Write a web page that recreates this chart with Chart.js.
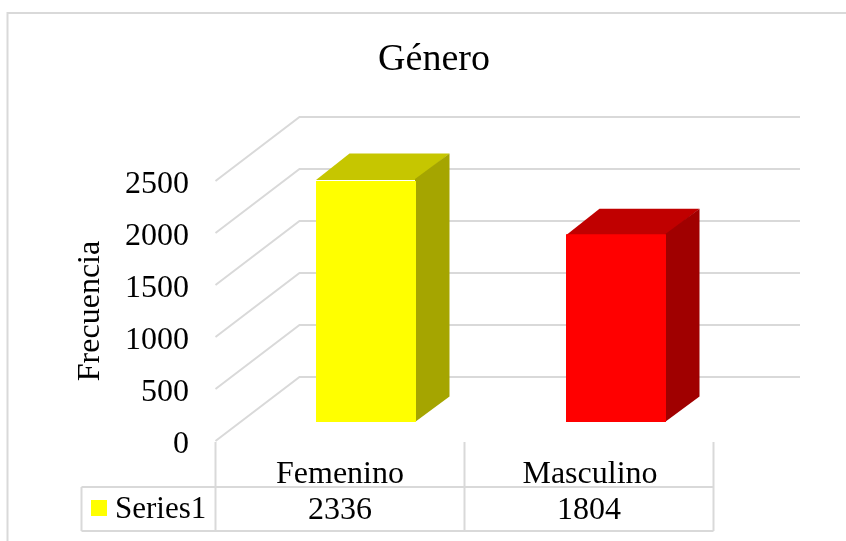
<!DOCTYPE html>
<html><head><meta charset="utf-8">
<script src="https://cdn.jsdelivr.net/npm/chart.js@4"></script>
<style>html,body{margin:0;padding:0;background:#fff}canvas{display:block}</style>
</head><body><canvas id="c" width="846" height="541"></canvas>
<script>
const categories = ['Femenino', 'Masculino'];
const values = [2336, 1804];
const barColors = ['#ffff00', '#ff0000'];
const topColors = ['#c6c600', '#c00000'];
const sideColors = ['#a5a500', '#a00000'];
const seriesName = 'Series1';
const chartTitle = 'Género';
const axisTitle = 'Frecuencia';
const FONT = '"Liberation Serif"';
const GRID = '#d9d9d9';
// 3D projection offsets
const WALL = {dx: 84, dy: -64, end: 800};
const DEPTH = {dx: 33.5, dy: -25.5};
const TABLE = {left: 81.5, col0: 215.5, col1: 464.5, col2: 713.5, head: 442, top: 487, bottom: 531};

function line(ctx, pts) {
  ctx.beginPath();
  pts.forEach((p, i) => i ? ctx.lineTo(p[0], p[1]) : ctx.moveTo(p[0], p[1]));
  ctx.stroke();
}
function poly(ctx, pts, color) {
  ctx.fillStyle = color;
  ctx.beginPath();
  pts.forEach((p, i) => i ? ctx.lineTo(p[0], p[1]) : ctx.moveTo(p[0], p[1]));
  ctx.closePath();
  ctx.fill();
}
const scene = {
  id: 'scene',
  beforeDraw(chart) {
    const {ctx, scales: {y}} = chart;
    ctx.save();
    ctx.strokeStyle = GRID;
    ctx.lineWidth = 2;
    // chart frame
    line(ctx, [[7.5, 541], [7.5, 13], [846, 13]]);
    y.ticks.forEach(t => {
      const py = y.getPixelForValue(t.value);
      line(ctx, [[TABLE.col0, py], [TABLE.col0 + WALL.dx, py + WALL.dy], [WALL.end, py + WALL.dy]]);
    });
    ctx.fillStyle = '#000';
    ctx.font = '38px ' + FONT;
    ctx.textAlign = 'center';
    ctx.textBaseline = 'alphabetic';
    ctx.fillText(chartTitle, 434, 70);
    ctx.restore();
  },
  beforeDatasetsDraw(chart) {
    const {ctx} = chart;
    const meta = chart.getDatasetMeta(0);
    ctx.save();
    meta.data.forEach((bar, i) => {
      const l = bar.x - bar.width / 2, r = bar.x + bar.width / 2, t = bar.y, b = bar.base;
      const d = DEPTH;
      // faces run 1px under the front of the bar so no seam shows
      poly(ctx, [[l, t + 1], [l + d.dx, t + d.dy], [r + d.dx, t + d.dy], [r, t + 1]], topColors[i]);
      poly(ctx, [[r - 1, t], [r + d.dx, t + d.dy], [r + d.dx, b + d.dy], [r - 1, b]], sideColors[i]);
    });
    ctx.restore();
  },
  afterDraw(chart) {
    const {ctx} = chart;
    const T = TABLE;
    ctx.save();
    ctx.strokeStyle = GRID;
    ctx.lineWidth = 2;
    line(ctx, [[T.left, T.top], [T.col2, T.top]]);
    line(ctx, [[T.left, T.bottom], [T.col2, T.bottom]]);
    line(ctx, [[T.left, T.top], [T.left, T.bottom]]);
    [T.col0, T.col1, T.col2].forEach(x => line(ctx, [[x, T.head], [x, T.bottom]]));
    ctx.fillStyle = barColors[0];
    ctx.fillRect(91, 500, 16, 16);
    ctx.fillStyle = '#000';
    ctx.font = '31px ' + FONT;
    ctx.textBaseline = 'alphabetic';
    ctx.textAlign = 'left';
    ctx.fillText(seriesName, 115, 518);
    ctx.font = '32px ' + FONT;
    ctx.textAlign = 'center';
    ctx.fillText(String(values[0]), (T.col0 + T.col1) / 2, 519);
    ctx.fillText(String(values[1]), (T.col1 + T.col2) / 2, 519);
    ctx.restore();
  }
};
new Chart(document.getElementById('c'), {
  type: 'bar',
  data: {
    labels: categories,
    datasets: [{label: seriesName, data: values, backgroundColor: barColors, xAxisID: 'x', yAxisID: 'yBars',
      categoryPercentage: 0.8, barPercentage: 0.5}]
  },
  plugins: [scene],
  options: {
    responsive: false,
    animation: false,
    layout: {padding: {left: 0, right: 105, top: 181, bottom: 0}},
    plugins: {
      legend: {display: false},
      tooltip: {enabled: false},
      title: {display: false}
    },
    scales: {
      x: {
        type: 'category',
        grid: {display: false},
        border: {display: false},
        ticks: {color: '#000', font: {family: FONT, size: 32}, labelOffset: -26, padding: 6, maxRotation: 0, autoSkip: false},
        afterFit(s) { s.height = 100; }
      },
      y: {
        type: 'linear', position: 'left', min: 0, max: 2500,
        grid: {display: false},
        border: {display: false},
        ticks: {stepSize: 500, color: '#000', font: {family: FONT, size: 32}, padding: 44, labelOffset: 4, format: {useGrouping: false}},
        title: {display: true, text: axisTitle, color: '#000', font: {family: FONT, size: 32}, padding: {top: 71, bottom: 0}},
        afterFit(s) { s.width = 241; }
      },
      yBars: {
        type: 'linear', display: false, min: -183, max: 2317
      }
    }
  }
});
</script></body></html>
